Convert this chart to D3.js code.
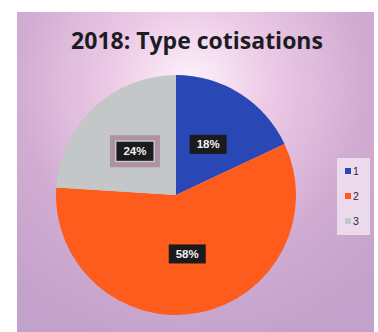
<!DOCTYPE html>
<html>
<head>
<meta charset="utf-8">
<script src="https://cdn.jsdelivr.net/npm/d3@7"></script>
<style>
  html, body { margin: 0; padding: 0; background: #ffffff; }
  svg { display: block; }
</style>
</head>
<body>
<svg id="chart" width="378" height="332"></svg>
<script>
// Contribution types for 2018 (share of total, %)
const categories = ["1", "2", "3"];
const values = [18, 58, 24];
const colors = ["#2a47b6", "#fd5b1a", "#c3c7c7"];
const title = "2018: Type cotisations";

const svg = d3.select("#chart");
const W = 378, H = 332;

// Chart area background with soft radial glow
const defs = svg.append("defs");
const grad = defs.append("radialGradient")
  .attr("id", "bg")
  .attr("gradientUnits", "userSpaceOnUse")
  .attr("cx", 190).attr("cy", 85).attr("r", 270);
grad.append("stop").attr("offset", 0).attr("stop-color", "#fdf3fb");
grad.append("stop").attr("offset", 0.3).attr("stop-color", "#ecc9e6");
grad.append("stop").attr("offset", 0.65).attr("stop-color", "#d1acd2");
grad.append("stop").attr("offset", 1).attr("stop-color", "#c2a1ca");

const shadow = defs.append("filter").attr("id", "soft")
  .attr("x", "-20%").attr("y", "-20%").attr("width", "140%").attr("height", "140%");
shadow.append("feGaussianBlur").attr("stdDeviation", 0.6);

svg.append("rect")
  .attr("x", 17).attr("y", 12)
  .attr("width", 357).attr("height", H - 12 + 5)
  .attr("fill", "url(#bg)");

// Title
svg.append("text")
  .attr("x", 197).attr("y", 49)
  .attr("text-anchor", "middle")
  .attr("font-family", "'Open Sans', 'Liberation Sans', sans-serif")
  .attr("font-weight", "bold")
  .attr("font-size", 23)
  .attr("fill", "#1d1c24")
  .text(title);

// Pie
const cx = 176, cy = 195, R = 120;
const pie = d3.pie().sort(null).value(d => d.value);
const data = categories.map((c, i) => ({ cat: c, value: values[i], color: colors[i] }));
const arcs = pie(data);
const arc = d3.arc().innerRadius(0).outerRadius(R);
const labelArc = d3.arc().innerRadius(0).outerRadius(R);

const g = svg.append("g").attr("transform", `translate(${cx},${cy})`);
g.selectAll("path.slice")
  .data(arcs)
  .join("path")
  .attr("class", "slice")
  .attr("d", arc)
  .attr("fill", d => d.data.color)
  .attr("filter", "url(#soft)");

// Data labels: white text on dark boxes
const labels = g.selectAll("g.lbl")
  .data(arcs)
  .join("g")
  .attr("class", "lbl")
  .attr("transform", d => {
    const [x, y] = labelArc.centroid(d);
    return `translate(${x},${y})`;
  });

labels.each(function(d) {
  const sel = d3.select(this);
  const bw = 37, bh = 19;
  if (d.data.cat === "3") {
    sel.append("rect")
      .attr("x", -bw / 2 - 4).attr("y", -bh / 2 - 4)
      .attr("width", bw + 8).attr("height", bh + 8)
      .attr("fill", "none")
      .attr("stroke", "#a77f95")
      .attr("stroke-width", 5)
      .attr("opacity", 0.75);
  }
  sel.append("rect")
    .attr("x", -bw / 2).attr("y", -bh / 2)
    .attr("width", bw).attr("height", bh)
    .attr("fill", "#1b1a1c");
  sel.append("text")
    .attr("text-anchor", "middle")
    .attr("dy", "0.36em")
    .attr("font-family", "'Liberation Sans', 'DejaVu Sans', sans-serif")
    .attr("font-weight", "bold")
    .attr("font-size", 11.5)
    .attr("fill", "#f2f2f2")
    .text(Math.round(d.data.value) + "%");
});

// Legend
const legend = svg.append("g").attr("transform", "translate(337,158)");
legend.append("rect")
  .attr("width", 33).attr("height", 77)
  .attr("fill", "#f1e3f1")
  .attr("opacity", 0.85);
const items = legend.selectAll("g.item")
  .data(data)
  .join("g")
  .attr("class", "item")
  .attr("transform", (d, i) => `translate(8,${13 + i * 25})`);
items.append("rect")
  .attr("x", 0).attr("y", -3)
  .attr("width", 6).attr("height", 6)
  .attr("fill", d => d.color);
items.append("text")
  .attr("x", 8).attr("dy", "0.36em")
  .attr("font-family", "'Liberation Sans', sans-serif")
  .attr("font-size", 10.5)
  .attr("fill", "#2e2834")
  .text(d => d.cat);
</script>
</body>
</html>
